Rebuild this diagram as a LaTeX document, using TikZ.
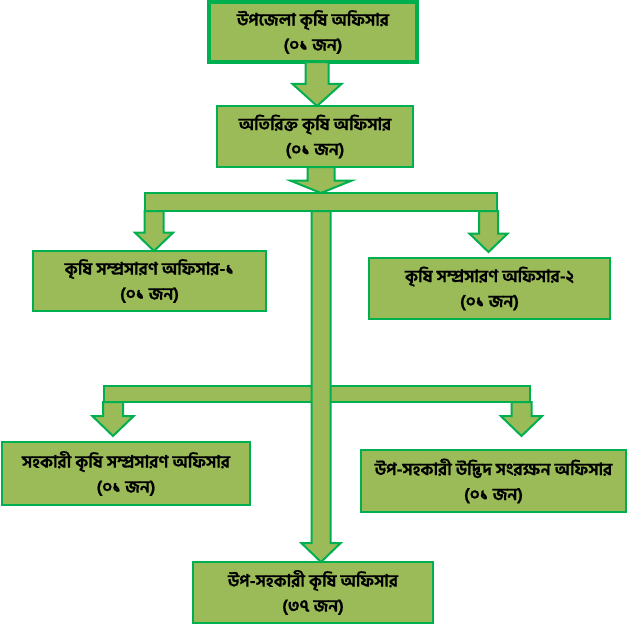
\documentclass[tikz,border=0pt]{standalone}
\usepackage{fontspec}
\newfontfamily\bnfont[Script=Bengali, BoldFeatures={FakeBold=0.8}]{Hind Siliguri}
\usetikzlibrary{shapes,shapes.arrows,positioning}
\definecolor{oliveFill}{HTML}{9BBB59}
\definecolor{lineGreen}{HTML}{00B050}
\tikzset{
	officeBox/.style={
		draw=lineGreen
		,fill=oliveFill
		,line width=1.5pt
		,align=center
		,inner sep=0pt
		,outer sep=0pt
		,font=\bnfont\bfseries\fontsize{17}{25}\selectfont
	},
	forkBar/.style={
		draw=lineGreen,
		fill=oliveFill,
		line width=2pt,
		inner sep=0pt,
		outer sep=0pt
	},
}
\begin{document}
\begin{tikzpicture}[x=1pt, y=-1pt
    , arr/.style={single arrow, draw=lineGreen, fill=oliveFill, line width=2pt, inner xsep=0pt, inner ysep=8.5pt, outer sep=0pt, rotate=-90, single arrow tip angle=92, single arrow head extend=9.5pt, minimum width=37pt, anchor=tip}
    ]
\useasboundingbox (0,0) rectangle (627,625);
\node[officeBox, line width=3.5pt, minimum width=208pt, minimum height=60pt] (uao) at (313,32) {উপজেলা কৃষি অফিসার\\(০১ জন)};
\node[officeBox, minimum width=196pt, minimum height=61pt] (aao) at (315,136.5) {অতিরিক্ত কৃষি অফিসার\\(০১ জন)};
\node[officeBox, minimum width=233pt, minimum height=60pt] (aeo1) at (149.5,281) {কৃষি সম্প্রসারণ অফিসার-১\\(০১ জন)};
\node[officeBox, minimum width=241pt, minimum height=61pt] (aeo2) at (489.5,288.5) {কৃষি সম্প্রসারণ অফিসার-২\\(০১ জন)};
\node[officeBox, minimum width=248pt, minimum height=63pt] (aaeo) at (126,473.5) {সহকারী কৃষি সম্প্রসারণ অফিসার\\(০১ জন)};
\node[officeBox, minimum width=265pt, minimum height=62pt] (sappo) at (493.5,481) {উপ-সহকারী উদ্ভিদ সংরক্ষন অফিসার\\(০১ জন)};
\node[officeBox, minimum width=240pt, minimum height=61pt] (saao) at (313,592.5) {উপ-সহকারী কৃষি অফিসার\\(৩৭ জন)};
% top two levels
\node[arr, inner ysep=10.5pt, minimum height=44pt, minimum width=47pt, single arrow head extend=13pt, single arrow tip angle=96] (a1) at ([xshift=2pt]aao.north) {};
\node[forkBar, minimum width=352pt, minimum height=18pt] (fork1) at (321,202) {};
\node[forkBar, minimum width=426pt, minimum height=16pt] (fork2) at (317,394) {};
\node[arr, inner ysep=12.5pt, minimum height=26pt, minimum width=59pt, single arrow head extend=17pt, single arrow tip angle=136] (a2) at (fork1.north) {};
% trunk
\node[arr, anchor=tail, minimum height=351pt, minimum width=37pt, single arrow head extend=10pt, single arrow tip angle=92] (a5) at (fork1.south) {};
% Fork 1
\node[arr, anchor=tail, minimum height=40pt] (a3) at ([xshift=9pt]fork1.south west) {};
\node[arr, anchor=tail, minimum height=41pt] (a4) at ([xshift=-8.5pt]fork1.south east) {};
% Fork 2
\node[arr, anchor=tail, inner ysep=9pt, minimum height=34pt, minimum width=39pt, single arrow head extend=10.5pt] (a6) at ([xshift=9pt]fork2.south west) {};
\node[arr, anchor=tail, inner ysep=9pt, minimum height=34pt, minimum width=39pt, single arrow head extend=10.5pt] (a7) at ([xshift=-8.5pt]fork2.south east) {};
\end{tikzpicture}
\end{document}
